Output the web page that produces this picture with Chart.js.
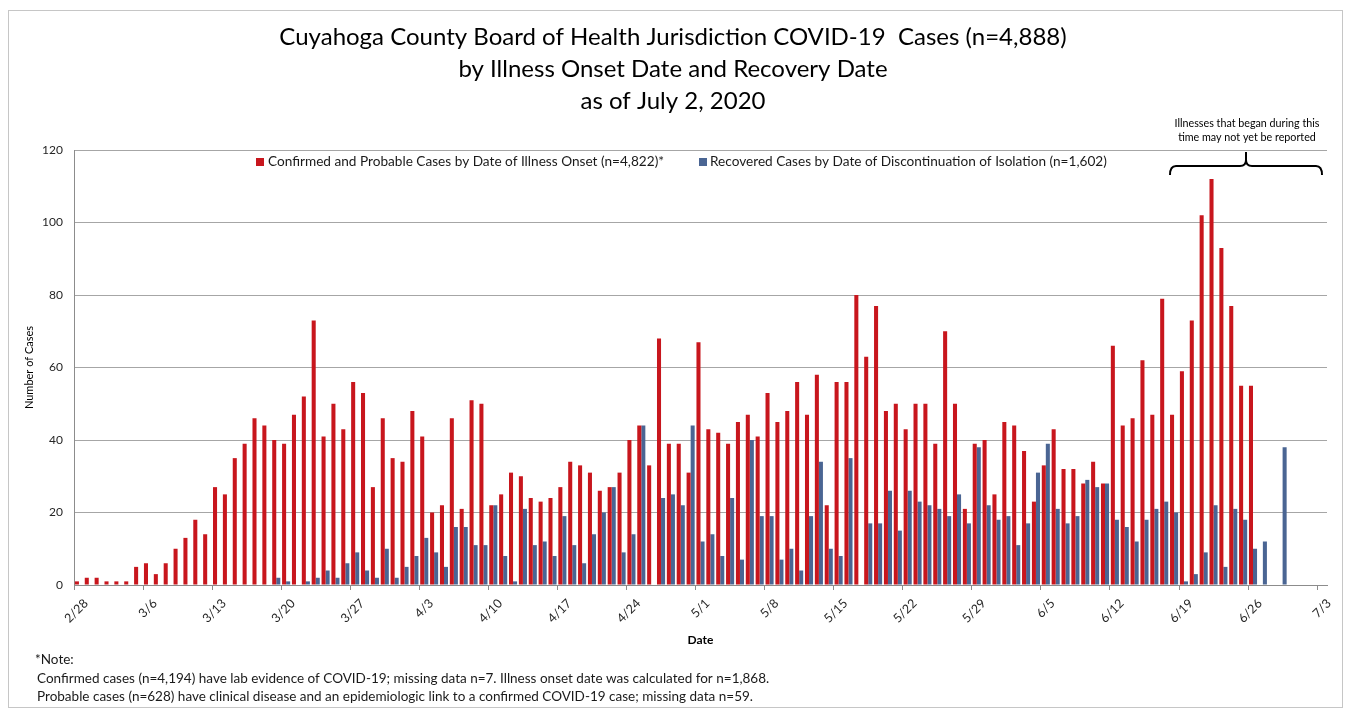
<!DOCTYPE html>
<html>
<head>
<meta charset="utf-8">
<script src="https://cdn.jsdelivr.net/npm/chart.js@4.4.1/dist/chart.umd.min.js"></script>
<style>
html,body{margin:0;padding:0;background:#fff;overflow:hidden}
#wrap{position:relative;width:1351px;height:713px}
</style>
</head>
<body>
<div id="wrap"><canvas id="c" width="1351" height="713"></canvas></div>
<script>
// ---- categories: one per day, 2/28/2020 .. 7/3/2020 ----
const dates = [
 '2/28','2/29',
 '3/1','3/2','3/3','3/4','3/5','3/6','3/7','3/8','3/9','3/10','3/11','3/12','3/13','3/14','3/15','3/16','3/17','3/18','3/19','3/20','3/21','3/22','3/23','3/24','3/25','3/26','3/27','3/28','3/29','3/30','3/31',
 '4/1','4/2','4/3','4/4','4/5','4/6','4/7','4/8','4/9','4/10','4/11','4/12','4/13','4/14','4/15','4/16','4/17','4/18','4/19','4/20','4/21','4/22','4/23','4/24','4/25','4/26','4/27','4/28','4/29','4/30',
 '5/1','5/2','5/3','5/4','5/5','5/6','5/7','5/8','5/9','5/10','5/11','5/12','5/13','5/14','5/15','5/16','5/17','5/18','5/19','5/20','5/21','5/22','5/23','5/24','5/25','5/26','5/27','5/28','5/29','5/30','5/31',
 '6/1','6/2','6/3','6/4','6/5','6/6','6/7','6/8','6/9','6/10','6/11','6/12','6/13','6/14','6/15','6/16','6/17','6/18','6/19','6/20','6/21','6/22','6/23','6/24','6/25','6/26','6/27','6/28','6/29','6/30',
 '7/1','7/2','7/3'
];

// ---- tick labels shown on the x axis ----
const weekTicks = ['2/28','3/6','3/13','3/20','3/27','4/3','4/10','4/17','4/24','5/1','5/8','5/15','5/22','5/29','6/5','6/12','6/19','6/26','7/3'];

// ---- series: confirmed + probable cases by illness onset date ----
const onsetCases = [
 1,2,2,1,1,1,5,
 6,3,6,10,13,18,14,
 27,25,35,39,46,44,40,
 39,47,52,73,41,50,43,
 56,53,27,46,35,34,48,
 41,20,22,46,21,51,50,
 22,25,31,30,24,23,24,
 27,34,33,31,26,27,31,
 40,44,33,68,39,39,31,
 67,43,42,39,45,47,41,
 53,45,48,56,47,58,22,
 56,56,80,63,77,48,50,
 43,50,50,39,70,50,21,
 39,40,25,45,44,37,23,
 33,43,32,32,28,34,28,
 66,44,46,62,47,79,47,
 59,73,102,112,93,77,55,
 55,0,0,0,0,0,0,
 0
];

// ---- series: recovered cases by date of discontinuation of isolation ----
const recoveredCases = [
 0,0,0,0,0,0,0,
 0,0,0,0,0,0,0,
 0,0,0,0,0,0,2,
 1,0,1,2,4,2,6,
 9,4,2,10,2,5,8,
 13,9,5,16,16,11,11,
 22,8,1,21,11,12,8,
 19,11,6,14,20,27,9,
 14,44,0,24,25,22,44,
 12,14,8,24,7,40,19,
 19,7,10,4,19,34,10,
 8,35,0,17,17,26,15,
 26,23,22,21,19,25,17,
 38,22,18,19,11,17,31,
 39,21,17,19,29,27,28,
 18,16,12,18,21,23,20,
 1,3,9,22,5,21,18,
 10,12,0,38,0,0,0,
 0
];

const seriesLabels = [
 'Confirmed and Probable Cases by Date of Illness Onset (n=4,822)*',
 'Recovered Cases by Date of Discontinuation of Isolation (n=1,602)'
];
const titleLines = [
 'Cuyahoga County Board of Health Jurisdiction COVID-19  Cases (n=4,888)',
 'by Illness Onset Date and Recovery Date',
 'as of July 2, 2020'
];
const annotationLines = ['Illnesses that began during this', 'time may not yet be reported'];
const noteLines = [
 '*Note:',
 'Confirmed cases (n=4,194) have lab evidence of COVID-19; missing data n=7. Illness onset date was calculated for n=1,868.',
 'Probable cases (n=628) have clinical disease and an epidemiologic link to a confirmed COVID-19 case; missing data n=59.'
];

const RED = '#C8161D';
const BLUE = '#4A6593';
const FAMILY = 'Lato, "Open Sans", sans-serif';

function fitSize(ctx, text, weight, target) {
  ctx.font = weight + ' 100px ' + FAMILY;
  return 100 * target / ctx.measureText(text).width;
}

const measureCtx = document.createElement('canvas').getContext('2d');
const titleSize = fitSize(measureCtx, titleLines[0], 'normal', 788);

const decor = {
  id: 'decor',
  afterDraw(chart) {
    const ctx = chart.ctx;
    ctx.save();
    // outer chart border
    ctx.strokeStyle = '#C6C6C6';
    ctx.lineWidth = 1;
    ctx.strokeRect(8.5, 10.5, 1334, 697);

    // legend (inside the plot, under the top gridline)
    const legendItems = [
      {x: 256, tx: 268, w: 395},
      {x: 699, tx: 710, w: 397}
    ];
    const lsize = fitSize(ctx, chart.data.datasets[1].label, 'normal', legendItems[1].w);
    ctx.font = 'normal ' + lsize.toFixed(2) + 'px ' + FAMILY;
    ctx.textBaseline = 'middle';
    ctx.textAlign = 'left';
    chart.data.datasets.forEach((ds, i) => {
      const it = legendItems[i];
      ctx.fillStyle = ds.backgroundColor;
      ctx.fillRect(it.x, 158, 8, 8);
      ctx.fillStyle = '#1a1a1a';
      ctx.fillText(ds.label, it.tx, 162);
    });

    // annotation text
    const asize = fitSize(ctx, annotationLines[0], 'normal', 145);
    ctx.font = 'normal ' + asize.toFixed(2) + 'px ' + FAMILY;
    ctx.textAlign = 'center';
    ctx.fillStyle = '#000';
    ctx.fillText(annotationLines[0], 1247, 124);
    ctx.fillText(annotationLines[1], 1247, 138);

    // bracket
    ctx.strokeStyle = '#000';
    ctx.lineWidth = 2;
    ctx.lineJoin = 'round';
    ctx.beginPath();
    ctx.moveTo(1170, 175);
    ctx.quadraticCurveTo(1170, 166, 1176, 166);
    ctx.lineTo(1240, 166);
    ctx.quadraticCurveTo(1246, 166, 1246, 160);
    ctx.lineTo(1246, 152);
    ctx.moveTo(1246, 160);
    ctx.quadraticCurveTo(1246, 166, 1252, 166);
    ctx.lineTo(1316, 166);
    ctx.quadraticCurveTo(1322, 166, 1322, 175);
    ctx.stroke();

    // notes
    const nsize = fitSize(ctx, noteLines[1], 'normal', 733);
    ctx.font = 'normal ' + nsize.toFixed(2) + 'px ' + FAMILY;
    ctx.textAlign = 'left';
    ctx.fillStyle = '#1a1a1a';
    ctx.fillText(noteLines[0], 35, 660);
    ctx.fillText(noteLines[1], 37, 679);
    ctx.fillText(noteLines[2], 37, 697);
    ctx.restore();
  }
};

const tickCol = (c) => weekTicks.includes(dates[c.index]) ? '#8C8C8C' : 'rgba(0,0,0,0)';

new Chart(document.getElementById('c'), {
  type: 'bar',
  data: {
    labels: dates,
    datasets: [
      {label: seriesLabels[0], data: onsetCases, backgroundColor: RED, borderWidth: 0, categoryPercentage: 0.82, barPercentage: 1.0},
      {label: seriesLabels[1], data: recoveredCases, backgroundColor: BLUE, borderWidth: 0, categoryPercentage: 0.82, barPercentage: 1.0}
    ]
  },
  options: {
    responsive: false,
    animation: false,
    devicePixelRatio: 1,
    layout: {padding: {left: 19, right: 24, top: 0, bottom: 62}},
    plugins: {
      legend: {display: false},
      tooltip: {enabled: false},
      title: {
        display: true,
        text: titleLines,
        color: '#000',
        font: {family: FAMILY, size: titleSize, weight: 'normal', lineHeight: '32px'},
        padding: {top: 21, bottom: 33}
      }
    },
    scales: {
      x: {
        offset: true,
        grid: {offset: true, drawOnChartArea: false, drawTicks: true, tickLength: 5, color: tickCol, tickColor: tickCol},
        border: {display: true, color: '#8C8C8C'},
        ticks: {
          autoSkip: false, maxRotation: 45, minRotation: 45, padding: 6, labelOffset: 7,
          color: '#262626',
          font: {family: FAMILY, size: 12.5},
          callback: function(v, i) { const l = dates[i]; return weekTicks.includes(l) ? l : ''; }
        },
        title: {display: true, text: 'Date', color: '#000', font: {family: FAMILY, size: 12, weight: 'bold'}, padding: {top: 4, bottom: 4}},
        afterFit(s) { s.height = 66; }
      },
      y: {
        min: 0, max: 120,
        ticks: {stepSize: 20, color: '#262626', font: {family: FAMILY, size: 12}, padding: 3},
        grid: {color: '#A6A6A6', tickLength: 8, tickColor: 'rgba(0,0,0,0)'},
        border: {display: true, color: '#8C8C8C'},
        title: {display: true, text: 'Number of Cases', color: '#000', font: {family: FAMILY, size: 11}, padding: {top: 4, bottom: 4}},
        afterFit(s) { s.width = 55; }
      }
    }
  },
  plugins: [decor]
});
</script>
</body>
</html>
